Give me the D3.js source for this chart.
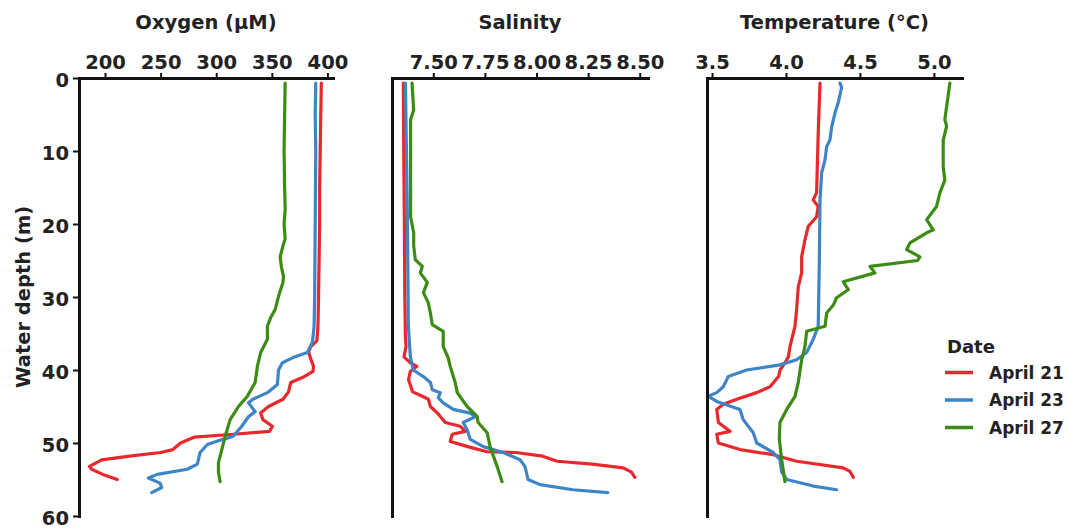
<!DOCTYPE html>
<html>
<head>
<meta charset="utf-8">
<script src="https://cdn.jsdelivr.net/npm/d3@7"></script>
<style>
    body { margin: 0; background: #fff; }
    .canvas text { font-family: 'DejaVu Sans', sans-serif; font-weight: bold; fill: #222; }
</style>
</head>
<body>
<div class="canvas"></div>
<script>
//Data: [depth (m), value] pairs
const dates = ['April 21', 'April 23', 'April 27'];
const colors = ['#e8282c', '#3d85c6', '#3c8c14'];

const oxyApr21 = [[0.7, 394.5], [5, 394], [10, 393.5], [15, 393], [20, 393], [25, 392.5], [30, 392], [34, 391.5], [36, 390.5], [36.8, 385], [37.5, 383], [38.5, 385], [39.5, 387.5], [40.2, 387], [41, 378], [41.7, 367], [43, 365], [44, 360], [45, 347], [45.9, 340], [46.8, 342], [47.7, 350.5], [48.4, 348], [48.8, 316], [49.2, 280], [50, 268], [50.9, 261], [51.3, 250], [51.8, 222], [52.3, 197], [53.2, 186], [53.6, 188], [54.3, 198], [55, 211]];
const oxyApr23 = [[0.7, 389.5], [5, 389], [10, 389.5], [20, 389], [30, 388.5], [34, 388], [36.2, 386.5], [37.6, 382], [38.3, 369], [39, 359.5], [40, 356], [42, 355], [43.1, 346], [44, 333], [44.5, 329], [45.7, 335], [46.4, 329], [47.7, 323], [49.1, 315], [49.5, 306], [50.2, 292], [51.3, 285.5], [52.9, 283], [53.6, 274], [54.3, 247], [54.8, 239], [55.5, 249.5], [56.1, 251], [56.8, 242]];
const oxyApr27 = [[0.7, 362], [5, 361.5], [10, 361], [15, 361.5], [18, 362], [20, 361], [22, 362], [23, 360], [24.5, 357.5], [25.8, 358.5], [27.2, 360.5], [28, 360], [29.9, 356], [31.7, 353], [32.8, 349], [34, 346], [35.8, 346], [37.6, 340], [39.5, 337], [41.7, 335], [43.6, 328], [45, 320], [46.8, 312.5], [49.1, 308], [50.9, 305], [52.7, 302], [54, 302], [55.3, 303.5]];

const salApr21 = [[0.7, 7.355], [10, 7.357], [20, 7.36], [30, 7.362], [35.4, 7.365], [36.8, 7.368], [38.2, 7.358], [39, 7.389], [39.5, 7.42], [40.2, 7.389], [41.3, 7.38], [43, 7.40], [43.6, 7.447], [44, 7.476], [45, 7.486], [45.9, 7.52], [47.2, 7.558], [47.7, 7.63], [48.4, 7.655], [48.8, 7.592], [49.8, 7.582], [50.6, 7.68], [51.2, 7.76], [51.3, 7.9], [51.8, 8.03], [52.5, 8.10], [52.9, 8.27], [53.4, 8.42], [54, 8.46], [54.7, 8.476]];
const salApr23 = [[0.7, 7.365], [10, 7.37], [20, 7.375], [30, 7.378], [34, 7.379], [38.2, 7.389], [40, 7.403], [40.9, 7.452], [41.7, 7.486], [42.7, 7.495], [43.1, 7.534], [43.8, 7.524], [44.5, 7.548], [45.4, 7.597], [45.9, 7.679], [46.4, 7.703], [47.2, 7.645], [48.2, 7.664], [49.5, 7.679], [50.5, 7.742], [51.3, 7.838], [52.3, 7.92], [53.2, 7.944], [55, 7.959], [55.7, 8.017], [56.4, 8.176], [56.8, 8.345]];
const salApr27 = [[0.7, 7.397], [4.4, 7.405], [5.7, 7.39], [10, 7.39], [15, 7.39], [19, 7.39], [21.2, 7.405], [23, 7.405], [24.9, 7.413], [25.8, 7.447], [26.7, 7.437], [28, 7.471], [29.4, 7.452], [30.8, 7.476], [32.2, 7.486], [33.8, 7.495], [34.7, 7.548], [36.8, 7.548], [38.3, 7.572], [39.5, 7.582], [41.7, 7.606], [43.1, 7.616], [45, 7.664], [46.4, 7.713], [47.2, 7.717], [48.6, 7.761], [50.5, 7.775], [53.2, 7.809], [55.3, 7.833]];

const tempApr21 = [[0.7, 4.23], [7.5, 4.218], [15.7, 4.207], [16.7, 4.184], [17.6, 4.218], [19, 4.207], [20.3, 4.151], [22.2, 4.128], [24.5, 4.106], [26.7, 4.106], [28.6, 4.083], [31.7, 4.072], [34, 4.061], [35.8, 4.039], [36.8, 4.027], [38.2, 4.016], [39, 3.993], [40, 3.96], [40.9, 3.95], [42.3, 3.892], [43.1, 3.802], [44, 3.667], [44.7, 3.576], [45.4, 3.532], [47.2, 3.543], [48.4, 3.622], [48.8, 3.532], [50, 3.543], [50.9, 3.689], [51.6, 3.914], [52.5, 4.072], [53.4, 4.387], [53.9, 4.432], [54.7, 4.455]];
const tempApr23 = [[0.7, 4.365], [1.3, 4.376], [3.4, 4.353], [4.8, 4.331], [6.7, 4.309], [8.5, 4.297], [9.4, 4.275], [11.2, 4.264], [13, 4.241], [16.7, 4.23], [25.8, 4.225], [34, 4.218], [35.8, 4.184], [37.6, 4.14], [38.6, 4.072], [39.3, 3.959], [40, 3.734], [40.9, 3.61], [42.3, 3.576], [43.1, 3.532], [43.6, 3.475], [44.3, 3.532], [45.4, 3.689], [46.8, 3.711], [48.6, 3.779], [50, 3.802], [51.3, 3.914], [52.3, 3.959], [54, 3.971], [55, 4.005], [55.9, 4.184], [56.4, 4.342]];
const tempApr27 = [[0.7, 5.108], [3.9, 5.086], [5.7, 5.074], [6.6, 5.086], [8.5, 5.063], [12.2, 5.063], [14, 5.074], [15.7, 5.041], [17.6, 5.018], [19.4, 4.951], [20.8, 4.995], [21.2, 4.951], [22.6, 4.838], [23.5, 4.816], [24.5, 4.905], [25, 4.89], [25.8, 4.568], [26.7, 4.601], [27.9, 4.387], [29, 4.421], [30.1, 4.342], [31.1, 4.32], [32.2, 4.275], [34, 4.264], [34.7, 4.14], [36.8, 4.128], [38.6, 4.106], [41.7, 4.083], [43.6, 4.061], [45.4, 4.005], [47.2, 3.959], [49.5, 3.955], [52.3, 3.971], [55.3, 3.993]];

const depthTicks = [0, 10, 20, 30, 40, 50, 60];
const oxyTicks = [200, 250, 300, 350, 400];
const salTicks = [7.50, 7.75, 8.00, 8.25, 8.50];
const tempTicks = [3.5, 4.0, 4.5, 5.0];

//Canvas || SVG Parameters
const
    width = 1068,
    height = 532,
    plotTop = 78,
    plotBottom = 516,
    fontSize = 19.5;

const panels = [
    { title: 'Oxygen (µM)', domain: [176.6, 405], range: [79, 333], ticks: oxyTicks, fmt: d3.format('d'), series: [oxyApr21, oxyApr23, oxyApr27] },
    { title: 'Salinity', domain: [7.30, 8.54], range: [392, 648], ticks: salTicks, fmt: d3.format('.2f'), series: [salApr21, salApr23, salApr27] },
    { title: 'Temperature (°C)', domain: [3.466, 5.19], range: [707, 962], ticks: tempTicks, fmt: d3.format('.1f'), series: [tempApr21, tempApr23, tempApr27] }
];

const svg = d3.select('.canvas')
    .append('svg')
    .attr('width', width)
    .attr('height', height);

const yScale = d3.scaleLinear()
    .domain([0, 60])
    .range([plotTop, plotBottom]);

const styleAxis = g => {
    g.select('.domain').attr('stroke', '#111').attr('stroke-width', 3).attr('stroke-linecap', 'square');
    g.selectAll('.tick line').attr('stroke', '#111').attr('stroke-width', 2);
    g.selectAll('.tick text').attr('font-size', fontSize).attr('fill', '#222');
    g.attr('font-family', null).attr('font-size', null);
};

panels.forEach((p, pi) => {
    const xScale = d3.scaleLinear().domain(p.domain).range(p.range);

    //Lines
    const line = d3.line()
        .x(d => xScale(d[1]))
        .y(d => yScale(d[0]));
    svg.append('g')
        .selectAll('path')
        .data(p.series)
        .enter()
        .append('path')
        .attr('d', line)
        .attr('fill', 'none')
        .attr('stroke', (d, i) => colors[i])
        .attr('stroke-width', 3.2)
        .attr('stroke-linejoin', 'round')
        .attr('stroke-linecap', 'round');

    //Y-Axis (ticks on first panel only)
    const yAxis = d3.axisLeft(yScale)
        .tickSize(6)
        .tickSizeOuter(0)
        .tickPadding(4)
        .tickValues(pi === 0 ? depthTicks : []);
    svg.append('g')
        .attr('transform', `translate(${p.range[0]}, 0)`)
        .call(yAxis)
        .call(styleAxis)
        .call(g => g.selectAll('.tick text').attr('dy', '0.45em'));

    //X-Axis on top
    const xAxis = d3.axisTop(xScale)
        .tickSize(5)
        .tickSizeOuter(0)
        .tickPadding(4)
        .tickValues(p.ticks)
        .tickFormat(p.fmt);
    svg.append('g')
        .attr('transform', `translate(0, ${plotTop})`)
        .call(xAxis)
        .call(styleAxis);

    //Panel title
    svg.append('text')
        .attr('x', (p.range[0] + p.range[1]) / 2)
        .attr('y', 29)
        .attr('text-anchor', 'middle')
        .attr('font-size', fontSize)
        .text(p.title);
});

//Y label
svg.append('text')
    .attr('transform', `translate(30, ${(plotTop + plotBottom) / 2}) rotate(-90)`)
    .attr('text-anchor', 'middle')
    .attr('font-size', fontSize)
    .text('Water depth (m)');

//Legend
const legend = svg.append('g')
    .attr('transform', 'translate(945, 0)');
legend.append('text')
    .attr('x', 2)
    .attr('y', 353)
    .attr('font-size', 18)
    .text('Date');
legend.selectAll('line')
    .data(dates)
    .enter()
    .append('line')
    .attr('x1', 0)
    .attr('x2', 28)
    .attr('y1', (d, i) => 372.5 + i * 27.5)
    .attr('y2', (d, i) => 372.5 + i * 27.5)
    .attr('stroke', (d, i) => colors[i])
    .attr('stroke-width', 3.5);
legend.selectAll('.item')
    .data(dates)
    .enter()
    .append('text')
    .attr('class', 'item')
    .attr('x', 44)
    .attr('y', (d, i) => 372.5 + i * 27.5)
    .attr('dy', '0.36em')
    .attr('font-size', 17)
    .text(d => d);
</script>
</body>
</html>
